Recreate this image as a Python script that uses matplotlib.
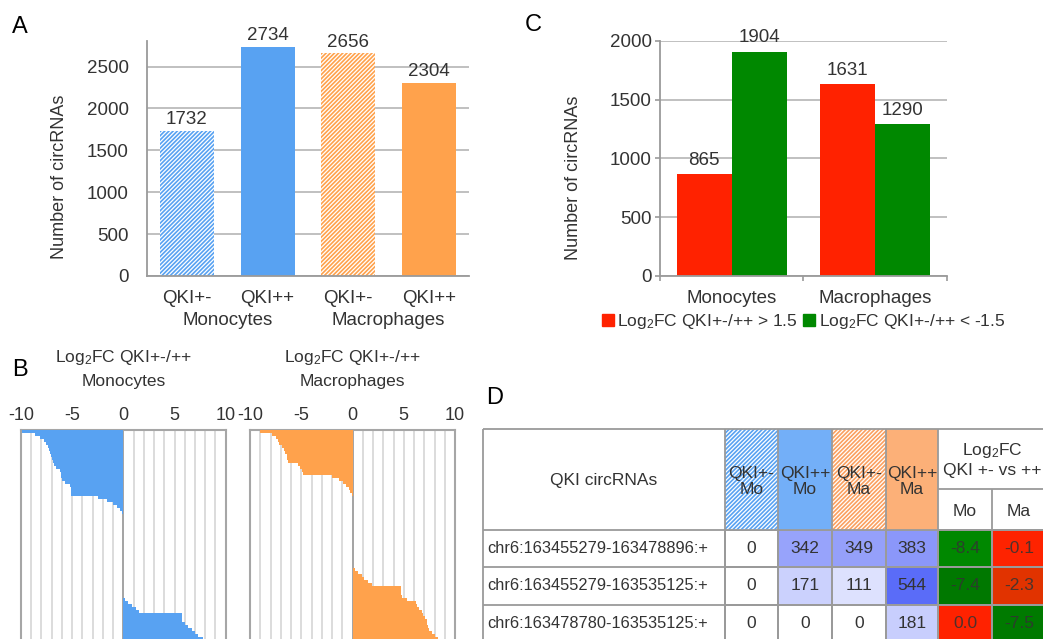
import matplotlib
matplotlib.use('Agg')
import matplotlib.pyplot as plt
import numpy as np
from matplotlib.colors import LinearSegmentedColormap
from matplotlib.patches import Rectangle, Patch
from matplotlib.transforms import blended_transform_factory

plt.rcParams['font.family'] = ['Liberation Sans', 'DejaVu Sans']
plt.rcParams['mathtext.fontset'] = 'custom'
plt.rcParams['mathtext.rm'] = 'Liberation Sans'
plt.rcParams['mathtext.default'] = 'regular'
plt.rcParams['axes.unicode_minus'] = False
plt.rcParams['hatch.linewidth'] = 1.2
plt.rcParams['text.color'] = '#333333'

# panel A: circRNAs detected per sample
a_labels = ['QKI+-', 'QKI++', 'QKI+-', 'QKI++']
a_groups = ['Monocytes', 'Macrophages']
a_counts = [1732, 2734, 2656, 2304]

# panel C: differentially expressed circRNAs
c_groups = ['Monocytes', 'Macrophages']
c_up = [865, 1631]
c_down = [1904, 1290]
c_legend = ['Log$_2$FC QKI+-/++ > 1.5', 'Log$_2$FC QKI+-/++ < -1.5']

# panel B: sorted log2FC (visible part only, chart is cut at the bottom)
mono_fc = [-9.9, -8.6, -8.1, -7.8, -7.6, -7.4, -7.3, -7.2, -7.1, -7.0,
           -6.85, -6.75, -6.6, -6.2, -6.1, -6.1, -6.0, -5.7, -5.2, -5.1,
           -5.1, -5.1, -2.5, -1.6, -1.0, -0.6, -0.35, -0.15, -0.05,
           0, 0, 0, 0, 0, 0, 0, 0, 0, 0, 0, 0, 0, 0, 0, 0, 0, 0, 0, 0, 0, 0, 0, 0, 0, 0, 0,
           0.16, 0.5, 0.8, 1.2, 1.53, 5.7, 5.7, 5.7, 6.0, 6.35, 6.7, 7.0, 7.3, 7.8]
macro_fc = [-9.0, -7.9, -7.5, -7.3, -7.15, -6.9, -6.65, -6.55, -6.4, -6.35,
            -6.3, -5.3, -5.1, -4.9, -4.8, -2.0, -1.27, -0.88, -0.62, -0.39,
            -0.2, -0.03,
            0, 0, 0, 0, 0, 0, 0, 0, 0, 0, 0, 0, 0, 0, 0, 0, 0, 0, 0, 0, 0, 0, 0, 0,
            0.2, 0.52, 0.9, 1.14, 1.5, 1.9, 4.75, 4.75, 4.75, 4.8, 5.3,
            6.2, 6.3, 6.5, 6.75, 6.9, 7.1, 7.25, 7.3, 7.35, 7.5, 7.75, 8.0, 8.3]

# panel D: table
circ_ids = ['chr6:163455279-163478896:+', 'chr6:163455279-163535125:+',
            'chr6:163478780-163535125:+']
count_headers = ['QKI+-\nMo', 'QKI++\nMo', 'QKI+-\nMa', 'QKI++\nMa']
counts = [[0, 342, 349, 383], [0, 171, 111, 544], [0, 0, 0, 181]]
fc_headers = ['Mo', 'Ma']
log_fc = [[-8.4, -0.1], [-7.4, -2.3], [0.0, -7.5]]

blue = '#58a2f2'
orange = '#ffa24c'
red = '#ff2200'
green = '#008800'
grey = '#9a9a9a'
txt = '#333333'

W, H = 1043, 639
fig = plt.figure(figsize=(W / 100, H / 100), dpi=100)


def px_axes(x0, y0, x1, y1):
    return fig.add_axes([x0 / W, 1 - y1 / H, (x1 - x0) / W, (y1 - y0) / H])


# ---- A ----
axA = px_axes(146.7, 41.4, 469, 276)
x = np.arange(len(a_counts))
bars = axA.bar(x, a_counts, width=0.67, color=['white', blue, 'white', orange],
               edgecolor=[blue, blue, orange, orange], linewidth=0)
bars[0].set_hatch('////////')
bars[2].set_hatch('////////')
axA.set_xlim(-0.5, 3.5)
axA.set_ylim(0, 2800)
axA.set_yticks(range(0, 3000, 500))
axA.set_xticks(x, a_labels)
axA.yaxis.grid(True, color='#b5b5b5', lw=1.2)
axA.set_axisbelow(True)
for s in ['top', 'right']:
    axA.spines[s].set_visible(False)
for s in ['left', 'bottom']:
    axA.spines[s].set_color(grey)
    axA.spines[s].set_linewidth(1.3)
axA.tick_params(axis='y', length=0, pad=13, labelsize=13.5, labelcolor=txt)
axA.tick_params(axis='x', length=0, pad=10, labelsize=13.5, labelcolor=txt)
axA.bar_label(bars, padding=2, fontsize=13.5, color=txt)
tr = blended_transform_factory(axA.transData, axA.transAxes)
for g, xc in zip(a_groups, [0.5, 2.5]):
    axA.text(xc, -0.188, g, transform=tr, ha='center', va='center', fontsize=13.5)
axA.text(-0.272, 0.422, 'Number of circRNAs', rotation=90, transform=axA.transAxes,
         ha='center', va='center', fontsize=13)

# ---- C ----
axC = px_axes(660, 40.7, 946.7, 276)
xc = np.arange(len(c_groups))
w = 0.384
b1 = axC.bar(xc - w / 2, c_up, w, color=red, label=c_legend[0])
b2 = axC.bar(xc + w / 2, c_down, w, color=green, label=c_legend[1])
axC.set_xlim(-0.5, 1.5)
axC.set_ylim(0, 2000)
axC.set_yticks(range(0, 2001, 500))
axC.set_xticks(xc, c_groups)
axC.set_xticks([-0.5, 0.5, 1.5], minor=True)
axC.yaxis.grid(True, color='#b5b5b5', lw=1.2)
axC.set_axisbelow(True)
for s in ['top', 'right']:
    axC.spines[s].set_visible(False)
for s in ['left', 'bottom']:
    axC.spines[s].set_color(grey)
    axC.spines[s].set_linewidth(1.3)
axC.tick_params(axis='y', length=3.6, width=1.2, color=grey, pad=2.4,
                labelsize=13.5, labelcolor=txt)
axC.tick_params(axis='x', which='major', length=0, pad=10, labelsize=13.5, labelcolor=txt)
axC.tick_params(axis='x', which='minor', length=3.6, width=1.2, color=grey)
axC.bar_label(b1, padding=4, fontsize=13.5, color=txt)
axC.bar_label(b2, padding=4, fontsize=13.5, color=txt)
axC.text(-0.303, 0.416, 'Number of circRNAs', rotation=90, transform=axC.transAxes,
         ha='center', va='center', fontsize=13)
axC.legend(handles=[Patch(color=red), Patch(color=green)], labels=c_legend,
           loc='center', bbox_to_anchor=(0.5, -0.195), ncol=2, frameon=False,
           fontsize=12.5, handlelength=0.7, handleheight=0.7, handletextpad=0.2,
           columnspacing=0.3, borderpad=0, borderaxespad=0)

# ---- B ----
for (x0, x1), vals, col, grp in [((21, 225.7), mono_fc, blue, 'Monocytes'),
                                 ((250, 455), macro_fc, orange, 'Macrophages')]:
    ax = px_axes(x0, 430, x1, 640)
    rank = np.arange(len(vals))
    ax.barh(rank, vals, height=1.0, align='edge', color=col, linewidth=0, zorder=3)
    ax.set_ylim(len(vals), 0)
    ax.set_xlim(-10, 10)
    ax.set_xticks([-10, -5, 0, 5, 10])
    ax.set_xticks(range(-10, 11), minor=True)
    ax.xaxis.grid(True, which='both', color='#d6d6d6', lw=1.2, zorder=1)
    ax.axvline(0, color='#a0a0a0', lw=1.3, zorder=2)
    ax.xaxis.tick_top()
    ax.tick_params(axis='x', which='both', length=0, pad=4.3, labelsize=13, labelcolor=txt)
    ax.set_yticks([])
    ax.spines['bottom'].set_visible(False)
    for s in ['top', 'left', 'right']:
        ax.spines[s].set_color('#a6a6a6')
        ax.spines[s].set_linewidth(1.5)
    ax.text(0.5, 1.343, 'Log$_2$FC QKI+-/++', transform=ax.transAxes,
            ha='center', va='center', fontsize=12.5)
    ax.text(0.5, 1.233, grp, transform=ax.transAxes, ha='center', va='center', fontsize=12.5)

# ---- D ----
axD = px_axes(482, 428, 1043, 639)
axD.set_xlim(482, 1043)
axD.set_ylim(639, 428)
axD.axis('off')
col_x = [483, 725, 778, 832, 886, 938, 992, 1046]
row_y = [429, 530, 567, 605, 643]
split_y = 489

blue_map = LinearSegmentedColormap.from_list('cnt', ['#ffffff', '#5a6cf8'])
fc_map = LinearSegmentedColormap.from_list(
    'fc', [(0, '#008800'), (0.12, '#007800'), (0.72, '#e03300'), (1, '#ff2200')])
axD.pcolormesh(col_x[1:6], row_y[1:], np.array(counts), cmap=blue_map, vmin=0, vmax=544,
               edgecolors=grey, linewidth=1.3)
axD.pcolormesh(col_x[5:], row_y[1:], np.array(log_fc), cmap=fc_map, vmin=-8.4, vmax=0,
               edgecolors=grey, linewidth=1.3)

head_style = [('white', blue, '////////'), ('#73aff8', '#73aff8', None),
              ('white', '#fba060', '////////'), ('#fcb078', '#fcb078', None)]
for j, (fc, ec, hatch) in enumerate(head_style):
    axD.add_patch(Rectangle((col_x[j + 1], row_y[0]), col_x[j + 2] - col_x[j + 1],
                            row_y[1] - row_y[0], facecolor=fc, edgecolor=ec,
                            linewidth=0, hatch=hatch))
axD.hlines(row_y[:4], col_x[0], col_x[-1], color=grey, lw=1.3)
axD.vlines(col_x[:6], row_y[0], row_y[-1], color=grey, lw=1.3)
axD.vlines(col_x[6], split_y, row_y[-1], color=grey, lw=1.3)
axD.hlines(split_y, col_x[5], col_x[-1], color=grey, lw=1.3)

axD.text((col_x[0] + col_x[1]) / 2, 481, 'QKI circRNAs', ha='center', va='center', fontsize=12.5)
for j, h in enumerate(count_headers):
    axD.text((col_x[j + 1] + col_x[j + 2]) / 2, 481.5, h, ha='center', va='center',
             fontsize=12.5, linespacing=1.05)
axD.text(992, 450, 'Log$_2$FC', ha='center', va='center', fontsize=12.5)
axD.text(992, 470, 'QKI +- vs ++', ha='center', va='center', fontsize=12.5)
for j, h in enumerate(fc_headers):
    axD.text((col_x[j + 5] + col_x[j + 6]) / 2, 512, h, ha='center', va='center', fontsize=12.5)

for i, cid in enumerate(circ_ids):
    yc = (row_y[i + 1] + row_y[i + 2]) / 2
    axD.text(487, yc, cid, ha='left', va='center', fontsize=11.8)
    for j, v in enumerate(counts[i]):
        axD.text((col_x[j + 1] + col_x[j + 2]) / 2, yc, str(v), ha='center', va='center',
                 fontsize=12.5)
    for j, v in enumerate(log_fc[i]):
        axD.text((col_x[j + 5] + col_x[j + 6]) / 2, yc, f'{v:.1f}', ha='center',
                 va='center', fontsize=12.5, color='#333333', alpha=0.85)

# panel letters
for letter, px, py in [('A', 20, 27), ('C', 533, 25), ('B', 20, 370), ('D', 495, 398)]:
    fig.text(px / W, 1 - py / H, letter, ha='center', va='center', fontsize=17, color='black')

fig.savefig('out.png', dpi=100)
